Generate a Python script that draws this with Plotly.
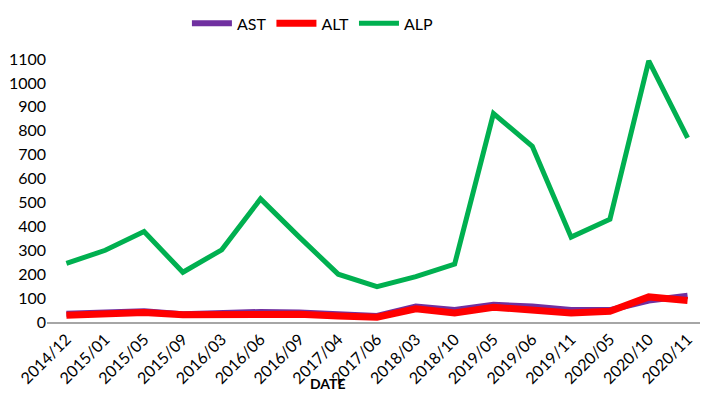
import plotly.graph_objects as go

dates = ["2014/12", "2015/01", "2015/05", "2015/09", "2016/03", "2016/06", "2016/09",
         "2017/04", "2017/06", "2018/03", "2018/10", "2019/05", "2019/06", "2019/11",
         "2020/05", "2020/10", "2020/11"]
ast = [35, 38, 45, 32, 38, 42, 40, 32, 25, 65, 50, 72, 65, 50, 50, 90, 110]
alt = [28, 32, 40, 30, 30, 35, 32, 25, 20, 55, 38, 62, 50, 38, 45, 105, 90]
alp = [245, 300, 378, 208, 302, 515, 355, 200, 148, 190, 242, 872, 735, 355, 430, 1092, 770]

FONT = "Lato, Open Sans, sans-serif"

fig = go.Figure()
fig.add_trace(go.Scatter(x=dates, y=ast, name="AST", mode="lines",
                         line=dict(color="#7030A0", width=6)))
fig.add_trace(go.Scatter(x=dates, y=alt, name="ALT", mode="lines",
                         line=dict(color="#FF0000", width=7)))
fig.add_trace(go.Scatter(x=dates, y=alp, name="ALP", mode="lines",
                         line=dict(color="#00B050", width=5)))

fig.update_layout(
    width=700, height=387,
    margin=dict(l=39, r=1, t=51, b=73, autoexpand=False),
    paper_bgcolor="white", plot_bgcolor="white",
    font=dict(family=FONT, size=16, color="#000000"),
    legend=dict(orientation="h", x=0.212, xanchor="left", y=1.2, yanchor="top",
                font=dict(size=16), itemwidth=40, tracegroupgap=0),
    xaxis=dict(type="category", range=[-0.5, len(dates) - 0.5], tickangle=-45,
               showgrid=False, showline=True, automargin=False,
               linecolor="#A6A6A6", linewidth=1.5, ticks="",
               tickfont=dict(size=16, family=FONT)),
    yaxis=dict(range=[0, 1100], dtick=100, showgrid=False, showline=False,
               automargin=False, zeroline=False, ticks="",
               tickfont=dict(size=16, family=FONT)),
    annotations=[dict(text="<b>DATE</b>", x=0.425, y=-0.275, xref="paper", yref="paper",
                      showarrow=False, font=dict(size=14, family=FONT))],
)

fig.write_html("out.html")
